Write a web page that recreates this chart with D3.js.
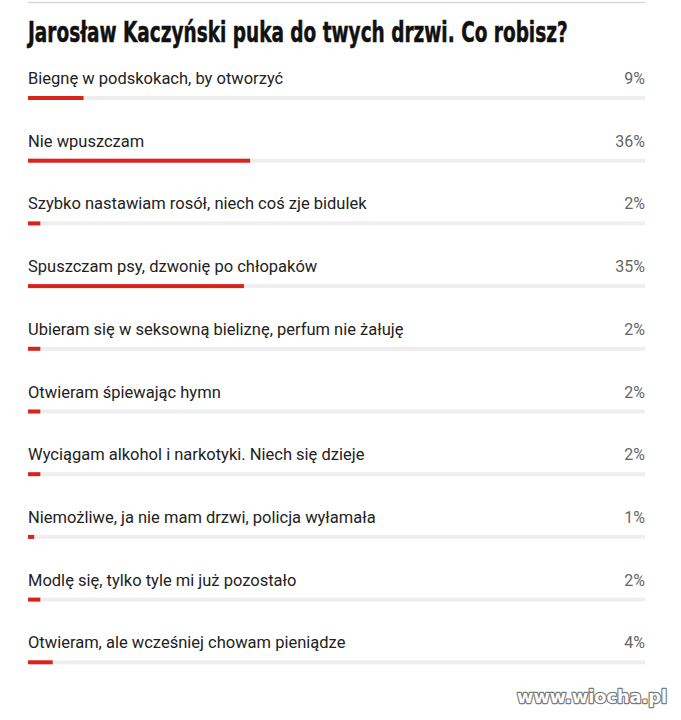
<!DOCTYPE html>
<html><head><meta charset="utf-8">
<script src="https://cdn.jsdelivr.net/npm/d3@7/dist/d3.min.js"></script>
<style>body{margin:0;background:#fff}svg{display:block}</style>
</head><body>
<svg id="c" width="681" height="720"></svg>
<script>
const title = "Jarosław Kaczyński puka do twych drzwi. Co robisz?";
const categories = [
  "Biegnę w podskokach, by otworzyć",
  "Nie wpuszczam",
  "Szybko nastawiam rosół, niech coś zje bidulek",
  "Spuszczam psy, dzwonię po chłopaków",
  "Ubieram się w seksowną bieliznę, perfum nie żałuję",
  "Otwieram śpiewając hymn",
  "Wyciągam alkohol i narkotyki. Niech się dzieje",
  "Niemożliwe, ja nie mam drzwi, policja wyłamała",
  "Modlę się, tylko tyle mi już pozostało",
  "Otwieram, ale wcześniej chowam pieniądze"
];
const values = [9, 36, 2, 35, 2, 2, 2, 1, 2, 4];
const watermark = "www.wiocha.pl";

const svg = d3.select("#c");
const left = 28, right = 645;
const x = d3.scaleLinear().domain([0, 100]).range([left, right]);
const y = d3.scaleBand().domain(d3.range(categories.length)).range([60, 687]);

svg.append("line").attr("x1", left).attr("x2", right).attr("y1", 2.5).attr("y2", 2.5)
  .attr("stroke", "#d8d8d8").attr("stroke-width", 1.5);

const t = svg.append("text").attr("x", 0).attr("y", 0)
  .attr("font-family", "'DejaVu Sans Condensed','DejaVu Sans',sans-serif")
  .attr("font-stretch", "condensed")
  .attr("font-weight", "bold").attr("font-size", 28).attr("fill", "#111")
  .attr("stroke", "#111").attr("stroke-width", 0.5)
  .text(title);
const w = t.node().getComputedTextLength();
t.attr("transform", `translate(${left},42) scale(${540 / w},1)`);

const rows = svg.selectAll("g.row").data(categories).join("g").attr("class", "row")
  .attr("transform", (d, i) => `translate(0,${y(i)})`);

rows.append("text").attr("x", left).attr("y", 24)
  .attr("font-family", "Roboto, sans-serif").attr("font-size", 16.5).attr("fill", "#222")
  .text(d => d);
rows.append("text").attr("x", right).attr("y", 24).attr("text-anchor", "end")
  .attr("font-family", "Roboto, sans-serif").attr("font-size", 16).attr("fill", "#666")
  .text((d, i) => values[i] + "%");
rows.append("rect").attr("x", x(0)).attr("y", 36).attr("height", 4)
  .attr("width", x(100) - x(0)).attr("fill", "#eeeeee");
rows.append("rect").attr("x", x(0)).attr("y", 36).attr("height", 4)
  .attr("width", (d, i) => x(values[i]) - x(0)).attr("fill", "#d9231c");

const wm = svg.append("text").attr("x", 667).attr("y", 703).attr("text-anchor", "end")
  .attr("font-family", "'DejaVu Sans', sans-serif").attr("font-weight", "bold")
  .attr("font-size", 19).attr("fill", "#fff").attr("stroke", "#7a7a7a")
  .attr("stroke-width", 2.4).attr("stroke-linejoin", "round").attr("paint-order", "stroke")
  .text(watermark);
const ww = wm.node().getComputedTextLength();
wm.attr("font-size", 19 * 150 / ww);
</script>
</body></html>
